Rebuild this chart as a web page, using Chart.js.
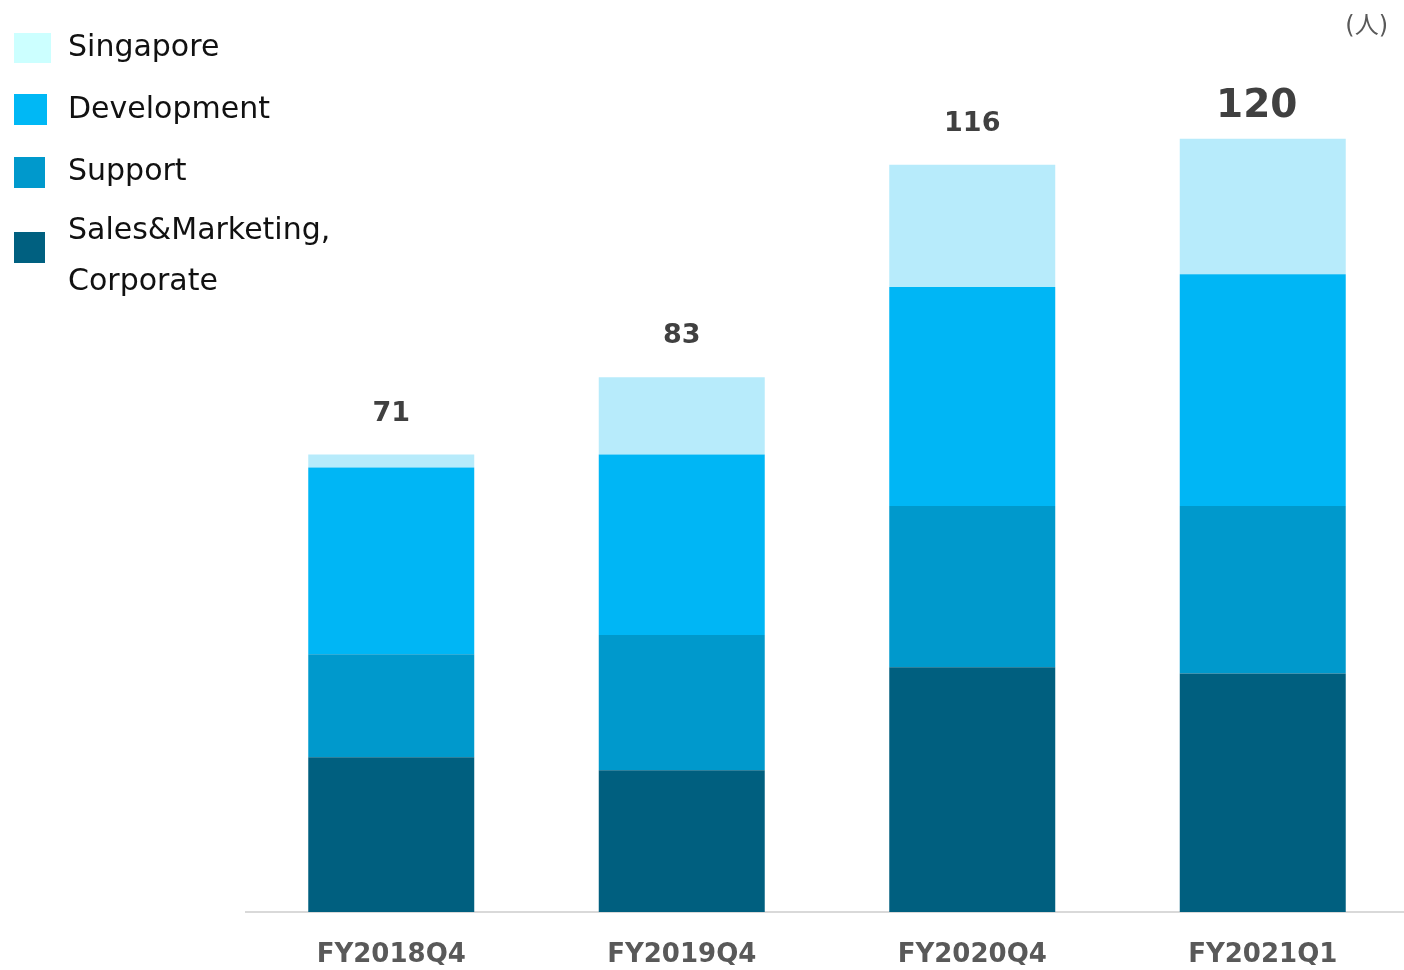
<!DOCTYPE html>
<html>
<head>
<meta charset="utf-8">
<script src="https://cdn.jsdelivr.net/npm/chart.js@4"></script>
<style>
  html, body { margin: 0; padding: 0; background: #fff; overflow: hidden; }
  #wrap { position: relative; width: 1404px; height: 970px; overflow: hidden; }
  #headcount { position: absolute; left: 0; top: 0; }
  .legend { position: absolute; left: 0; top: 0; font-family: "DejaVu Sans", Verdana, sans-serif; font-size: 30px; color: #111; }
  .legend .item { position: absolute; white-space: nowrap; }
  .legend .sw { position: absolute; }
  .unit { position: absolute; right: 16px; top: 5px; font-family: "DejaVu Sans", "Noto Sans CJK JP", sans-serif; font-size: 24px; color: #595959; }
</style>
</head>
<body>
<div id="wrap">
  <!-- canvas is a few px wider than the window: the plot runs off the right edge in the original -->
  <canvas id="headcount" width="1408" height="970"></canvas>
  <div class="legend">
    <div class="sw" style="left:14px;top:33px;width:37px;height:30px;background:#CCFFFF"></div>
    <div class="item" style="left:68px;top:28px">Singapore</div>
    <div class="sw" style="left:14px;top:94px;width:33px;height:31px;background:#00B8F5"></div>
    <div class="item" style="left:68px;top:90px">Development</div>
    <div class="sw" style="left:14px;top:157px;width:31px;height:31px;background:#0099CC"></div>
    <div class="item" style="left:68px;top:152px">Support</div>
    <div class="sw" style="left:14px;top:232px;width:31px;height:31px;background:#006080"></div>
    <div class="item" style="left:68px;top:203px;line-height:51px">Sales&amp;Marketing,<br>Corporate</div>
  </div>
  <div class="unit">(人)</div>
</div>
<script>
// headcount by team

const quarters = ['FY2018Q4', 'FY2019Q4', 'FY2020Q4', 'FY2021Q1'];
const salesCorporate = [24, 22, 38, 37];
const support = [16, 21, 25, 26];
const development = [29, 28, 34, 36];
const singapore = [2, 12, 19, 21];
const totals = [71, 83, 116, 120];

// Draws the total above each stacked bar
const totalLabels = {
    id: 'totalLabels',
    afterDatasetsDraw(chart) {
        const ctx = chart.ctx;
        const meta = chart.getDatasetMeta(chart.data.datasets.length - 1);
        const yScale = chart.scales.y;
        ctx.save();
        ctx.fillStyle = '#404040';
        ctx.textAlign = 'center';
        ctx.textBaseline = 'middle';
        totals.forEach(function(total, i) {
            const x = meta.data[i].x;
            const top = yScale.getPixelForValue(total);
            if (i === totals.length - 1) {
                // latest quarter gets a bigger number
                ctx.font = 'bold 39px "DejaVu Sans", Verdana, sans-serif';
                ctx.fillText(String(total), x - 6, top - 32);
            } else {
                ctx.font = 'bold 27px "DejaVu Sans", Verdana, sans-serif';
                ctx.fillText(String(total), x, top - 41);
            }
        });
        ctx.restore();
    }
};

const ctx = document.getElementById('headcount').getContext('2d');
const myChart = new Chart(ctx, {
    type: 'bar',
    data: {
        labels: quarters,
        datasets: [
            { label: 'Sales&Marketing, Corporate', data: salesCorporate, backgroundColor: '#005F7F' },
            { label: 'Support', data: support, backgroundColor: '#0099CC' },
            { label: 'Development', data: development, backgroundColor: '#00B6F5' },
            { label: 'Singapore', data: singapore, backgroundColor: '#B7EBFB' }
        ]
    },
    options: {
        responsive: false,
        animation: false,
        layout: {
            padding: { left: 246, right: 0, top: 10, bottom: 5 }
        },
        datasets: {
            bar: { barPercentage: 0.5714, categoryPercentage: 1.0, borderWidth: 0 }
        },
        plugins: {
            legend: { display: false },
            tooltip: { enabled: false }
        },
        scales: {
            x: {
                stacked: true,
                grid: { display: false, drawTicks: false },
                border: { display: true, color: '#D9D9D9', width: 2 },
                ticks: {
                    color: '#595959',
                    padding: 28,
                    font: { family: '"DejaVu Sans", Verdana, sans-serif', size: 26, weight: 'bold' }
                },
                afterFit: function(scale) {
                    scale.height = 53;
                }
            },
            y: {
                stacked: true,
                display: false,
                min: 0,
                max: 140
            }
        }
    },
    plugins: [totalLabels]
});
</script>
</body>
</html>
